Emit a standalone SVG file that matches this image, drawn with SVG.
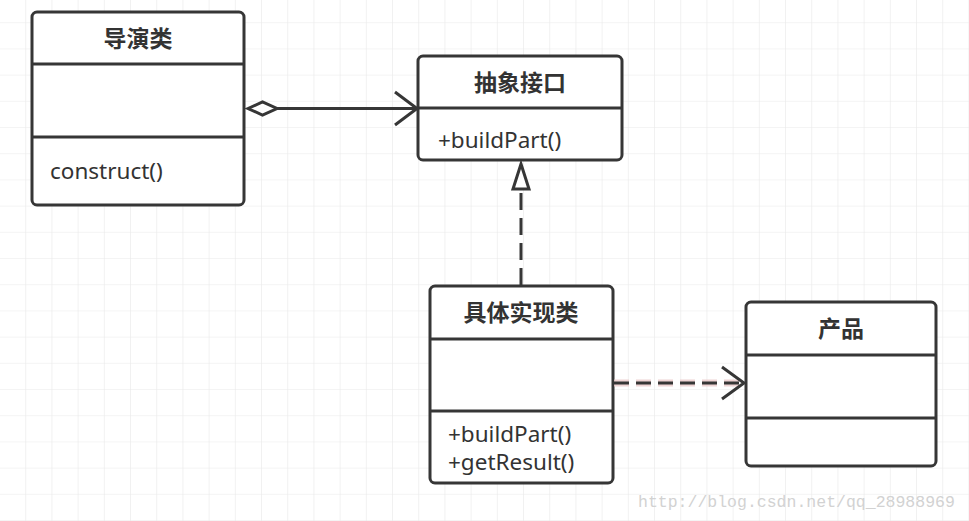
<svg xmlns="http://www.w3.org/2000/svg" width="969" height="521" viewBox="0 0 969 521">
<defs>
<pattern id="grid" x="0" y="-3" width="26.2" height="26.2" patternUnits="userSpaceOnUse">
<path d="M26.2 0V26.2M0 26.2H26.2" fill="none" stroke="#e9e9e9" stroke-width="1.2"/>
</pattern>
<style>
.box{fill:#fff;stroke:#363636;stroke-width:3}
.div{stroke:#363636;stroke-width:3}
.title{font-family:"Noto Sans CJK SC","Noto Sans",sans-serif;font-weight:bold;font-size:23px;fill:#333;text-anchor:middle}
.body{font-family:"Noto Sans","Open Sans",sans-serif;font-size:22.5px;fill:#333}
.line{fill:none;stroke:#363636;stroke-width:3}
</style>
</defs>
<rect width="969" height="521" fill="#fff"/>
<rect width="969" height="521" fill="url(#grid)"/>
<g id="director">
<rect class="box" x="32" y="12" width="212" height="193" rx="5"/>
<line class="div" x1="32" y1="64" x2="244" y2="64"/>
<line class="div" x1="32" y1="137" x2="244" y2="137"/>
<text class="title" x="138" y="47">导演类</text>
<text class="body" x="50" y="179">construct()</text>
</g>
<g id="builder">
<rect class="box" x="418" y="56" width="204" height="104" rx="5"/>
<line class="div" x1="418" y1="108" x2="622" y2="108"/>
<text class="title" x="520" y="91">抽象接口</text>
<text class="body" x="438" y="148">+buildPart()</text>
</g>
<g id="concrete">
<rect class="box" x="430" y="286" width="183" height="197" rx="5"/>
<line class="div" x1="430" y1="339" x2="613" y2="339"/>
<line class="div" x1="430" y1="411" x2="613" y2="411"/>
<text class="title" x="521" y="321">具体实现类</text>
<text class="body" x="448" y="442">+buildPart()</text>
<text class="body" x="448" y="470">+getResult()</text>
</g>
<g id="product">
<rect class="box" x="746" y="302" width="190" height="164" rx="5"/>
<line class="div" x1="746" y1="355" x2="936" y2="355"/>
<line class="div" x1="746" y1="418" x2="936" y2="418"/>
<text class="title" x="841" y="337">产品</text>
</g>
<g id="connectors">
<line class="line" x1="277" y1="108.5" x2="417" y2="108.5"/>
<polygon points="248,108.5 262.5,102 277,108.5 262.5,115" fill="#fff" stroke="#363636" stroke-width="3" stroke-linejoin="miter"/>
<polyline class="line" points="395,92 417,108.5 395,125"/>
<line class="line" x1="521" y1="285" x2="521" y2="190" stroke-dasharray="17 8"/>
<polygon points="521,164 513,189 529,189" fill="#fff" stroke="#363636" stroke-width="3"/>
<line x1="614" y1="383" x2="743" y2="383" stroke="#eccaca" stroke-width="7" stroke-dasharray="15 7" opacity="0.8"/>
<line class="line" x1="614" y1="383" x2="743" y2="383" stroke-dasharray="15 7"/>
<polyline class="line" points="722,367 744,383 722,399"/>
</g>
<text x="638" y="507" font-family="Liberation Mono,monospace" font-size="16.5" fill="#d2d2d2">http://blog.csdn.net/qq_28988969</text>
</svg>
